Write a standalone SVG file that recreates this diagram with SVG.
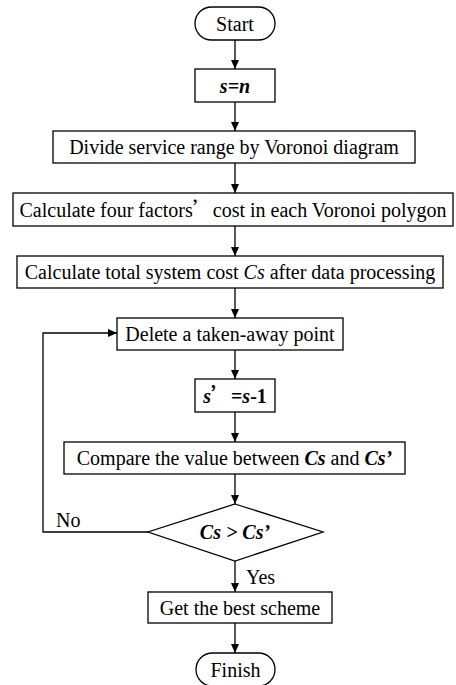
<svg xmlns="http://www.w3.org/2000/svg" width="456" height="685" viewBox="0 0 456 685">
<style>
.s{fill:#fff;stroke:#000;stroke-width:1.3}
.t{font-family:"Liberation Serif","Times New Roman",serif;font-size:20px;fill:#000;text-anchor:middle}
.bi{font-weight:bold;font-style:italic}
.b{font-weight:bold}
.i{font-style:italic}
.c{stroke:#000;stroke-width:1.3;fill:none}
.cj{font-family:"Noto Sans CJK SC","Liberation Serif",serif}
</style>
<defs>
<marker id="ah" markerWidth="10" markerHeight="10" refX="9" refY="4" orient="auto" markerUnits="userSpaceOnUse">
<path d="M0,0 L9,4 L0,8 Z" fill="#000"/>
</marker>
</defs>
<rect width="456" height="685" fill="#fff"/>
<g id="connectors">
<line class="c" x1="235" y1="40" x2="235" y2="69" marker-end="url(#ah)"/>
<line class="c" x1="235" y1="102" x2="235" y2="131" marker-end="url(#ah)"/>
<line class="c" x1="235" y1="163" x2="235" y2="193" marker-end="url(#ah)"/>
<line class="c" x1="235" y1="226" x2="235" y2="256" marker-end="url(#ah)"/>
<line class="c" x1="235" y1="288" x2="235" y2="318" marker-end="url(#ah)"/>
<line class="c" x1="235" y1="350" x2="235" y2="379" marker-end="url(#ah)"/>
<line class="c" x1="235" y1="412" x2="235" y2="442" marker-end="url(#ah)"/>
<line class="c" x1="235" y1="474" x2="235" y2="504" marker-end="url(#ah)"/>
<line class="c" x1="235" y1="561" x2="235" y2="592" marker-end="url(#ah)"/>
<line class="c" x1="235" y1="623" x2="235" y2="653" marker-end="url(#ah)"/>
<polyline class="c" points="148,532 43,532 43,333 117,333" marker-end="url(#ah)"/>
<text class="t" x="56" y="527" text-anchor="start" style="text-anchor:start">No</text>
<text class="t" x="246" y="584" style="text-anchor:start">Yes</text>
</g>
<g id="start">
<rect class="s" x="195" y="7" width="80" height="33" rx="16.5"/>
<text class="t" x="235" y="30.5">Start</text>
</g>
<g id="s_eq_n">
<rect class="s" x="195" y="69" width="80" height="33"/>
<text class="t bi" x="235" y="92.5">s=n</text>
</g>
<g id="divide">
<rect class="s" x="53" y="131" width="362" height="32"/>
<text class="t" x="234" y="154">Divide service range by Voronoi diagram</text>
</g>
<g id="calc_four">
<rect class="s" x="13" y="193" width="440" height="33"/>
<text class="t" x="233" y="216.5">Calculate four factors<tspan class="cj">’</tspan>cost in each Voronoi polygon</text>
</g>
<g id="calc_total">
<rect class="s" x="17" y="256" width="426" height="32"/>
<text class="t" x="230" y="279">Calculate total system cost <tspan class="i">Cs</tspan> after data processing</text>
</g>
<g id="delete">
<rect class="s" x="117" y="318" width="226" height="32"/>
<text class="t" x="230" y="341">Delete a taken-away point</text>
</g>
<g id="s_prime">
<rect class="s" x="195" y="379" width="80" height="33"/>
<text class="t" x="235" y="402.5"><tspan class="bi">s</tspan><tspan class="cj b">’</tspan><tspan class="b">=</tspan><tspan class="bi">s</tspan><tspan class="b">-1</tspan></text>
</g>
<g id="compare">
<rect class="s" x="64" y="442" width="341" height="32"/>
<text class="t" x="234.5" y="465">Compare the value between <tspan class="bi">Cs</tspan> and <tspan class="bi">Cs’</tspan></text>
</g>
<g id="decision">
<polygon class="s" points="235,504 323,532 235,561 148,532"/>
<text class="t bi" x="235" y="539">Cs &gt; Cs’</text>
</g>
<g id="best">
<rect class="s" x="148" y="592" width="184" height="31"/>
<text class="t" x="240" y="614.5">Get the best scheme</text>
</g>
<g id="finish">
<rect class="s" x="196" y="653" width="79" height="33" rx="16.5"/>
<text class="t" x="235.5" y="676.5">Finish</text>
</g>
</svg>
